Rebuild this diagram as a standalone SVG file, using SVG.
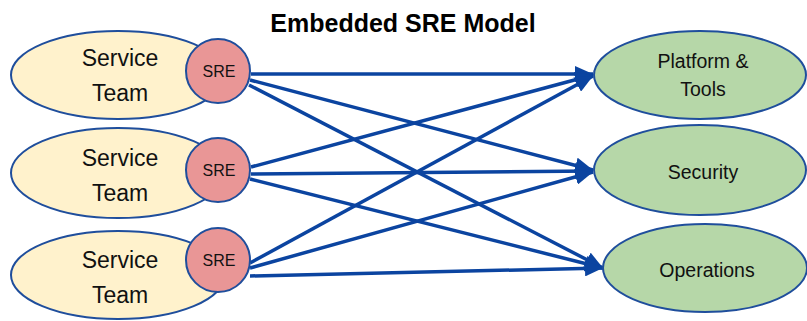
<svg xmlns="http://www.w3.org/2000/svg" width="807" height="321" viewBox="0 0 807 321">
<defs>
<style>
.team{fill:#FFF2CC;stroke:#1F4E9C;stroke-width:2}
.sre{fill:#E99696;stroke:#1F4E9C;stroke-width:2}
.grp{fill:#B6D7A8;stroke:#1F4E9C;stroke-width:2}
.t{font-family:"Liberation Sans",Arial,sans-serif;fill:#111;text-anchor:middle;dominant-baseline:central}
.big{font-size:23px}
.mid{font-size:19.5px}
.sm{font-size:16px}
.title{font-family:"Liberation Sans",Arial,sans-serif;font-weight:bold;font-size:25px;fill:#000;text-anchor:middle}
.c{stroke:#0B44A0;stroke-width:3.5;fill:none;marker-end:url(#ah)}
</style>
<marker id="ah" markerUnits="userSpaceOnUse" markerWidth="18" markerHeight="16" viewBox="0 0 18 16" refX="18" refY="8" orient="auto">
<path d="M0,0 L18,8 L0,16 Z" fill="#0B44A0"/>
</marker>
</defs>
<rect width="807" height="321" fill="#fff"/>
<text class="title" x="403" y="32">Embedded SRE Model</text>

<g id="team1"><ellipse class="team" cx="118" cy="75" rx="107" ry="44"/><text class="t big" x="120" y="58">Service</text><text class="t big" x="120" y="93">Team</text></g>
<g id="team2"><ellipse class="team" cx="118" cy="173" rx="107" ry="45"/><text class="t big" x="120" y="158">Service</text><text class="t big" x="120" y="193">Team</text></g>
<g id="team3"><ellipse class="team" cx="118" cy="275" rx="107" ry="44"/><text class="t big" x="120" y="260">Service</text><text class="t big" x="120" y="295">Team</text></g>

<g id="connectors">
<line class="c" x1="251" y1="74" x2="593" y2="74"/>
<line class="c" x1="250" y1="80" x2="593" y2="170"/>
<line class="c" x1="249" y1="85" x2="603" y2="268"/>
<line class="c" x1="251" y1="167" x2="593" y2="75"/>
<line class="c" x1="251" y1="174" x2="593" y2="171"/>
<line class="c" x1="250" y1="179" x2="603" y2="268"/>
<line class="c" x1="250" y1="263" x2="593" y2="76"/>
<line class="c" x1="250" y1="268" x2="593" y2="172"/>
<line class="c" x1="250" y1="276" x2="603" y2="268"/>
</g>

<g id="sre1"><circle class="sre" cx="218" cy="71" r="32"/><text class="t sm" x="219" y="71">SRE</text></g>
<g id="sre2"><circle class="sre" cx="218" cy="170" r="32"/><text class="t sm" x="219" y="170">SRE</text></g>
<g id="sre3"><circle class="sre" cx="218" cy="260" r="32"/><text class="t sm" x="219" y="260">SRE</text></g>

<g id="platform"><ellipse class="grp" cx="700" cy="75" rx="106" ry="44"/><text class="t mid" x="703" y="61">Platform &amp;</text><text class="t mid" x="703" y="89">Tools</text></g>
<g id="security"><ellipse class="grp" cx="700" cy="170" rx="106" ry="45"/><text class="t mid" x="703" y="172">Security</text></g>
<g id="operations"><ellipse class="grp" cx="705" cy="268" rx="102" ry="44"/><text class="t mid" x="707" y="270">Operations</text></g>
</svg>
